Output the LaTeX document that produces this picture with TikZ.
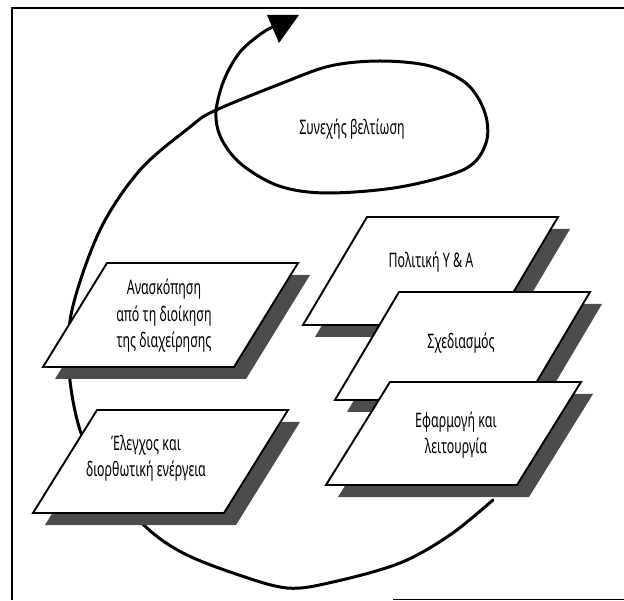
\documentclass[tikz,border=0pt]{standalone}
\usepackage{fontspec}
\setmainfont{Noto Sans}[FakeStretch=0.62]
\begin{document}
\begin{tikzpicture}[x=1pt,y=-1pt,
  framelne/.style={line width=1.4pt},
  loopline/.style={line width=3pt,line cap=round,line join=round},
  boxframe/.style={draw=black,line width=1.9pt,fill=white,line join=miter},
  boxshadow/.style={fill=black!70},
  lbl/.style={font=\fontsize{20}{26.5}\selectfont,align=center,inner sep=0pt}]
\useasboundingbox (0,0) rectangle (624,601);
% frame
\draw[framelne] (624,8) -- (12,8) -- (12,600);
\draw[framelne] (393,599.5) -- (624,599.5);
% improvement loop
\draw[loopline] plot[smooth,tension=0.55] coordinates {
 (493,500) (450,535) (400,563) (333,582) (287,588) (233,573) (183,553)
 (147,528) (105,482) (80,430) (69,370) (72,310) (100,230) (140,170)
 (190,127) (214,111) (280,84) (330,66) (380,61) (430,66) (467,84)
 (485,113) (486,143) (465,169) (400,187) (327,193) (279,186) (241,164)
 (221,138) (216,112) (224,80) (240,52) (262,33) (275,26)};
\fill (267,15) -- (299,15) -- (279,43) -- cycle;
\node[lbl] (improve) at (352,129) {Συνεχής βελτίωση};
% parallelogram boxes: top-left x, top y, height
\foreach \tx/\ty/\h in {107/263/104, 97/410/103, 367/217/108, 399/292/108, 390/382/103}{
  \fill[boxshadow] (\tx+12,\ty+12) -- ++(191,0) -- ++(-64,\h) -- ++(-191,0) -- cycle;
  \draw[boxframe] (\tx,\ty) -- ++(191,0) -- ++(-64,\h) -- ++(-191,0) -- cycle;
}
\node[lbl] (review) at (164,316) {Ανασκόπηση\\από τη διοίκηση\\της διαχείρησης};
\node[lbl] (check) at (146,458) {Έλεγχος και\\διορθωτική ενέργεια};
\node[lbl] (policy) at (431,262) {Πολιτική Υ \& Α};
\node[lbl] (plan) at (461,343) {Σχεδιασμός};
\node[lbl] (impl) at (456,435) {Εφαρμογή και\\λειτουργία};
\end{tikzpicture}
\end{document}
